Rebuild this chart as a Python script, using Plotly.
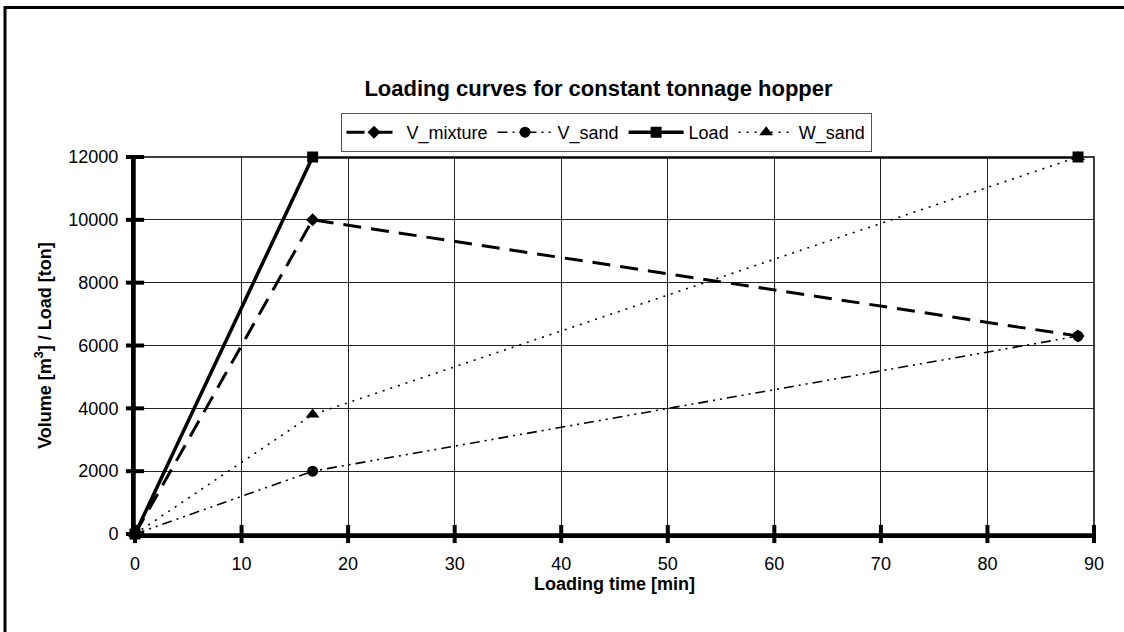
import plotly.graph_objects as go

# ---- data ----
time_min = [0, 16.67, 88.5]
v_mixture = [0, 10000, 6300]
v_sand = [0, 2000, 6300]
load = [0, 12000, 12000]
w_sand = [0, 3800, 12000]

x_ticks = [0, 10, 20, 30, 40, 50, 60, 70, 80, 90]
y_ticks = [0, 2000, 4000, 6000, 8000, 10000, 12000]

FONT = "Liberation Sans, Arial, sans-serif"
FS = 18

fig = go.Figure()

fig.add_trace(go.Scatter(
    x=time_min, y=v_mixture, name="V_mixture", mode="lines+markers", legendrank=1,
    cliponaxis=False,
    line=dict(color="black", width=3, dash="18px,10px"),
    marker=dict(symbol="diamond", size=10, color="black"),
))
fig.add_trace(go.Scatter(
    x=time_min, y=v_sand, name="V_sand", mode="lines+markers", legendrank=2,
    cliponaxis=False,
    line=dict(color="black", width=1.6, dash="10px,5px,2px,5px,2px,5px"),
    marker=dict(symbol="circle", size=11, color="black"),
))
fig.add_trace(go.Scatter(
    x=time_min, y=w_sand, name="W_sand", mode="lines+markers", legendrank=4,
    cliponaxis=False,
    line=dict(color="black", width=1.6, dash="2px,6px"),
    marker=dict(symbol="triangle-up", size=12, color="black"),
))
fig.add_trace(go.Scatter(
    x=time_min, y=load, name="Load", mode="lines+markers", legendrank=3,
    cliponaxis=False,
    line=dict(color="black", width=3.5),
    marker=dict(symbol="square", size=11, color="black"),
))

# crossing tick marks on the axes
fig.add_trace(go.Scatter(
    x=x_ticks, y=[0] * len(x_ticks), mode="markers", showlegend=False,
    hoverinfo="skip", cliponaxis=False,
    marker=dict(symbol="line-ns", size=13, line=dict(color="black", width=4)),
))
fig.add_trace(go.Scatter(
    x=[0] * len(y_ticks), y=y_ticks, mode="markers", showlegend=False,
    hoverinfo="skip", cliponaxis=False,
    marker=dict(symbol="line-ew", size=13, line=dict(color="black", width=4)),
))

fig.update_layout(
    width=1124, height=632,
    margin=dict(l=135, r=30, t=157, b=98),
    paper_bgcolor="white", plot_bgcolor="white",
    font=dict(family=FONT, size=FS, color="black"),
    title=dict(
        text="<b>Loading curves for constant tonnage hopper</b>",
        x=(598.5 - 135) / 959, xref="paper", xanchor="center",
        y=1 - 88 / 632, yref="container", yanchor="middle",
        font=dict(family=FONT, size=22, color="black"),
    ),
    legend=dict(
        orientation="h", x=(606 - 135) / 959, xanchor="center",
        y=(534 - 113) / 377, yanchor="top",
        bordercolor="#555", borderwidth=1, bgcolor="white",
        font=dict(family=FONT, size=18, color="black"),
        tracegroupgap=0, itemwidth=55,
    ),
    xaxis=dict(
        range=[0, 90], tickvals=x_ticks, ticktext=[str(v) for v in x_ticks],
        showgrid=True, gridcolor="#222", gridwidth=1,
        showline=True, linecolor="black", linewidth=4,
        zeroline=False, ticks="", ticklabelstandoff=10,
        tickfont=dict(family=FONT, size=FS, color="black"),
        title=dict(text="<b>Loading time [min]</b>", standoff=6,
                   font=dict(family=FONT, size=FS, color="black")),
    ),
    yaxis=dict(
        range=[0, 12000], tickvals=y_ticks, ticktext=[str(v) for v in y_ticks],
        showgrid=True, gridcolor="#222", gridwidth=1,
        showline=True, linecolor="black", linewidth=4,
        zeroline=False, ticks="", ticklabelstandoff=9,
        tickfont=dict(family=FONT, size=FS, color="black"),
        title=dict(text="<b>Volume [m<sup>3</sup>] / Load [ton]</b>", standoff=13,
                   font=dict(family=FONT, size=FS, color="black")),
    ),
    shapes=[
        # thin plot-area border (top/right)
        dict(type="rect", xref="paper", yref="paper", x0=0, x1=1, y0=0, y1=1,
             line=dict(color="black", width=1.5), layer="below"),
        # outer chart frame (extends beyond the picture at right/bottom)
        dict(type="rect", xref="paper", yref="paper",
             x0=(5 - 135) / 959, x1=1.1, y0=-0.3, y1=(534 - 7.5) / 377,
             line=dict(color="black", width=3), layer="below"),
    ],
)

fig.write_html("out.html", config={"displayModeBar": False},
               post_script="document.body.style.margin='0';")
